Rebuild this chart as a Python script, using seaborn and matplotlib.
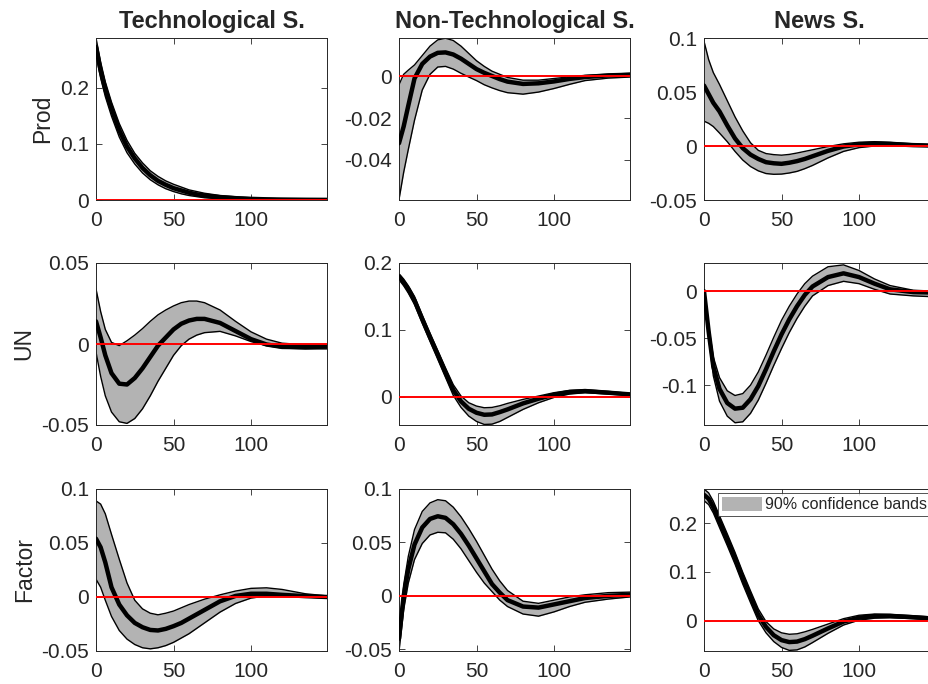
"""
Impulse responses with 90% bands, 3x3 grid (MATLAB-style look).
"""
import matplotlib
matplotlib.use("Agg")
import matplotlib.pyplot as plt
from matplotlib.patches import Patch
from matplotlib.ticker import FuncFormatter
import seaborn as sns
import pandas as pd

sns.set_style("ticks")
plt.rcParams["font.family"] = ["Liberation Sans", "DejaVu Sans"]
plt.rcParams["axes.unicode_minus"] = False

# ---- data ----
HORIZON = [0, 3, 6, 10, 15, 20, 25, 30, 35, 40, 45, 50, 55, 60, 65, 70, 80, 90, 100, 110, 120, 135, 149]

SHOCKS = ["Technological S.", "Non-Technological S.", "News S."]
VARIABLES = ["Prod", "UN", "Factor"]

# Prod
PROD_TECH_MED = [0.272, 0.23, 0.197, 0.162, 0.124, 0.095, 0.074, 0.057, 0.044, 0.034, 0.027, 0.021, 0.017, 0.013, 0.010, 0.008, 0.005, 0.003, 0.002, 0.0012, 0.0008, 0.0004, 0.0002]
PROD_TECH_HI = [0.288, 0.245, 0.21, 0.174, 0.136, 0.106, 0.083, 0.066, 0.052, 0.042, 0.034, 0.028, 0.023, 0.018, 0.015, 0.012, 0.008, 0.006, 0.004, 0.003, 0.002, 0.0015, 0.001]
PROD_TECH_LO = [0.258, 0.217, 0.184, 0.149, 0.112, 0.084, 0.064, 0.048, 0.036, 0.027, 0.020, 0.015, 0.011, 0.008, 0.006, 0.004, 0.002, 0.001, 0.0005, 0.0002, 0.0001, 0.0, 0.0]

PROD_NONTECH_MED = [-0.032, -0.024, -0.014, -0.001, 0.006, 0.0095, 0.0113, 0.0115, 0.0105, 0.0085, 0.006, 0.0035, 0.0017, 0.0002, -0.0013, -0.0025, -0.0036, -0.0033, -0.0024, -0.0012, -0.0003, 0.0005, 0.0008]
PROD_NONTECH_HI = [-0.004, 0.001, 0.003, 0.0055, 0.010, 0.0145, 0.0175, 0.0183, 0.0172, 0.0145, 0.011, 0.0075, 0.0048, 0.0025, 0.001, -0.0005, -0.0018, -0.0018, -0.001, -0.0002, 0.0005, 0.001, 0.0015]
PROD_NONTECH_LO = [-0.059, -0.046, -0.035, -0.021, -0.0065, 0.001, 0.0045, 0.0048, 0.0035, 0.0015, -0.0003, -0.002, -0.004, -0.0055, -0.0068, -0.0078, -0.0085, -0.0075, -0.0058, -0.0038, -0.002, -0.0008, -0.0003]

PROD_NEWS_MED = [0.056, 0.048, 0.040, 0.032, 0.019, 0.007, -0.002, -0.008, -0.012, -0.015, -0.016, -0.0165, -0.0155, -0.014, -0.012, -0.0095, -0.0045, -0.0005, 0.0015, 0.0022, 0.0018, 0.0008, 0.0003]
PROD_NEWS_HI = [0.097, 0.08, 0.068, 0.057, 0.042, 0.027, 0.014, 0.003, -0.004, -0.007, -0.008, -0.0085, -0.0078, -0.0065, -0.005, -0.0035, -0.0005, 0.002, 0.0035, 0.004, 0.0035, 0.002, 0.001]
PROD_NEWS_LO = [0.023, 0.021, 0.018, 0.012, 0.004, -0.005, -0.013, -0.019, -0.023, -0.0255, -0.0262, -0.026, -0.025, -0.0235, -0.021, -0.018, -0.011, -0.005, -0.0015, 0.0, 0.0002, -0.0002, -0.0003]

# UN
UN_TECH_MED = [0.014, 0.004, -0.007, -0.018, -0.0245, -0.025, -0.021, -0.015, -0.008, -0.001, 0.004, 0.009, 0.0125, 0.0145, 0.0155, 0.0155, 0.013, 0.008, 0.003, -0.0003, -0.0018, -0.002, -0.0015]
UN_TECH_HI = [0.034, 0.02, 0.009, 0.001, -0.001, 0.002, 0.0055, 0.0095, 0.014, 0.018, 0.021, 0.0235, 0.0255, 0.0265, 0.0265, 0.0255, 0.021, 0.014, 0.0075, 0.003, 0.0005, -0.0005, -0.0005]
UN_TECH_LO = [-0.005, -0.02, -0.032, -0.042, -0.048, -0.049, -0.046, -0.040, -0.032, -0.023, -0.015, -0.007, -0.001, 0.003, 0.0055, 0.007, 0.0078, 0.005, 0.0015, -0.001, -0.0025, -0.003, -0.003]

UN_NONTECH_MED = [0.180, 0.171, 0.161, 0.144, 0.116, 0.089, 0.063, 0.036, 0.010, -0.007, -0.018, -0.024, -0.027, -0.0265, -0.023, -0.019, -0.010, -0.003, 0.003, 0.007, 0.0085, 0.006, 0.0035]
UN_NONTECH_HI = [0.184, 0.176, 0.166, 0.150, 0.122, 0.095, 0.069, 0.043, 0.018, 0.001, -0.009, -0.014, -0.0165, -0.016, -0.0135, -0.010, -0.004, 0.001, 0.006, 0.0095, 0.0105, 0.008, 0.005]
UN_NONTECH_LO = [0.175, 0.166, 0.155, 0.138, 0.110, 0.083, 0.056, 0.029, 0.002, -0.016, -0.029, -0.037, -0.0415, -0.041, -0.037, -0.031, -0.019, -0.009, -0.001, 0.004, 0.006, 0.004, 0.002]

UN_NEWS_MED = [0.0, -0.043, -0.080, -0.104, -0.119, -0.125, -0.124, -0.115, -0.101, -0.083, -0.064, -0.046, -0.030, -0.016, -0.004, 0.005, 0.015, 0.019, 0.015, 0.008, 0.002, -0.001, -0.0015]
UN_NEWS_HI = [0.0, -0.037, -0.070, -0.092, -0.106, -0.111, -0.109, -0.100, -0.086, -0.068, -0.049, -0.031, -0.016, -0.003, 0.008, 0.016, 0.026, 0.028, 0.022, 0.013, 0.006, 0.001, 0.0]
UN_NEWS_LO = [0.0, -0.049, -0.090, -0.117, -0.133, -0.140, -0.139, -0.130, -0.116, -0.098, -0.079, -0.061, -0.044, -0.029, -0.016, -0.005, 0.006, 0.0105, 0.008, 0.002, -0.003, -0.005, -0.006]

# Factor
FACTOR_TECH_MED = [0.054, 0.046, 0.032, 0.009, -0.007, -0.017, -0.024, -0.028, -0.0305, -0.031, -0.0295, -0.027, -0.024, -0.020, -0.016, -0.012, -0.004, 0.001, 0.003, 0.003, 0.002, 0.0008, 0.0]
FACTOR_TECH_HI = [0.089, 0.086, 0.077, 0.058, 0.035, 0.013, -0.003, -0.011, -0.015, -0.0165, -0.015, -0.013, -0.010, -0.007, -0.0045, -0.002, 0.002, 0.0055, 0.008, 0.0085, 0.007, 0.003, 0.001]
FACTOR_TECH_LO = [0.0165, 0.009, -0.003, -0.018, -0.031, -0.039, -0.044, -0.047, -0.048, -0.047, -0.045, -0.042, -0.038, -0.034, -0.029, -0.024, -0.014, -0.006, -0.001, 0.001, 0.0012, 0.0, -0.001]

FACTOR_NONTECH_MED = [-0.040, 0.0, 0.025, 0.048, 0.064, 0.072, 0.0745, 0.073, 0.067, 0.058, 0.047, 0.035, 0.023, 0.011, 0.003, -0.004, -0.010, -0.011, -0.008, -0.005, -0.002, 0.0, 0.001]
FACTOR_NONTECH_HI = [-0.033, 0.01, 0.037, 0.062, 0.079, 0.087, 0.090, 0.089, 0.083, 0.074, 0.063, 0.051, 0.038, 0.025, 0.014, 0.005, -0.005, -0.007, -0.004, -0.001, 0.001, 0.003, 0.0035]
FACTOR_NONTECH_LO = [-0.052, -0.013, 0.012, 0.034, 0.049, 0.057, 0.0595, 0.059, 0.053, 0.044, 0.033, 0.022, 0.012, 0.004, -0.004, -0.01, -0.017, -0.019, -0.015, -0.01, -0.006, -0.003, -0.001]

FACTOR_NEWS_MED = [0.258, 0.250, 0.233, 0.203, 0.166, 0.128, 0.087, 0.049, 0.012, -0.013, -0.030, -0.040, -0.044, -0.043, -0.038, -0.031, -0.016, -0.002, 0.006, 0.0095, 0.0095, 0.007, 0.004]
FACTOR_NEWS_HI = [0.270, 0.262, 0.245, 0.215, 0.178, 0.140, 0.099, 0.061, 0.024, -0.002, -0.017, -0.025, -0.028, -0.027, -0.023, -0.018, -0.007, 0.004, 0.011, 0.0135, 0.013, 0.010, 0.007]
FACTOR_NEWS_LO = [0.246, 0.238, 0.221, 0.191, 0.154, 0.116, 0.075, 0.037, 0.000, -0.025, -0.043, -0.055, -0.061, -0.060, -0.054, -0.045, -0.026, -0.009, 0.001, 0.005, 0.006, 0.004, 0.001]

PANELS = [
    [(PROD_TECH_MED, PROD_TECH_LO, PROD_TECH_HI),
     (PROD_NONTECH_MED, PROD_NONTECH_LO, PROD_NONTECH_HI),
     (PROD_NEWS_MED, PROD_NEWS_LO, PROD_NEWS_HI)],
    [(UN_TECH_MED, UN_TECH_LO, UN_TECH_HI),
     (UN_NONTECH_MED, UN_NONTECH_LO, UN_NONTECH_HI),
     (UN_NEWS_MED, UN_NEWS_LO, UN_NEWS_HI)],
    [(FACTOR_TECH_MED, FACTOR_TECH_LO, FACTOR_TECH_HI),
     (FACTOR_NONTECH_MED, FACTOR_NONTECH_LO, FACTOR_NONTECH_HI),
     (FACTOR_NEWS_MED, FACTOR_NEWS_LO, FACTOR_NEWS_HI)],
]

Y_LIMITS = [
    [(0, 0.288), (-0.0592, 0.0184), (-0.05, 0.1)],
    [(-0.05, 0.05), (-0.0423, 0.2), (-0.1424, 0.030)],
    [(-0.05, 0.1), (-0.0516, 0.1), (-0.0623, 0.27)],
]
Y_TICKS = [
    [[0, 0.1, 0.2], [-0.04, -0.02, 0], [-0.05, 0, 0.05, 0.1]],
    [[-0.05, 0, 0.05], [0, 0.1, 0.2], [-0.1, -0.05, 0]],
    [[-0.05, 0, 0.05, 0.1], [-0.05, 0, 0.05, 0.1], [0, 0.1, 0.2]],
]
X_TICKS = [0, 50, 100]

BAND = "#B3B3B3"
AXC = "#262626"

W, H = 929, 684
LEFTS = [96, 399, 704]
TOPS = [38, 263, 489]
AW, AH = 231, 162


def fmt(v, _pos):
    if abs(v) < 1e-12:
        return "0"
    return f"{v:g}"


fig = plt.figure(figsize=(W / 100, H / 100), dpi=100)

for r in range(3):
    for c in range(3):
        ax = fig.add_axes([LEFTS[c] / W, 1 - (TOPS[r] + AH) / H, AW / W, AH / H])
        med, lo, hi = PANELS[r][c]
        ax.fill_between(HORIZON, lo, hi, color=BAND, lw=0, zorder=1)
        ax.plot(HORIZON, lo, color="black", lw=1.0, zorder=2)
        ax.plot(HORIZON, hi, color="black", lw=1.0, zorder=2)
        df = pd.DataFrame({"h": HORIZON, "irf": med})
        sns.lineplot(data=df, x="h", y="irf", color="black", lw=3.2, ax=ax, zorder=3)
        ax.axhline(0, color="red", lw=1.4, zorder=4)

        ax.set_xlim(0, 149)
        ax.set_ylim(*Y_LIMITS[r][c])
        ax.set_xticks(X_TICKS)
        ax.set_yticks(Y_TICKS[r][c])
        ax.yaxis.set_major_formatter(FuncFormatter(fmt))
        ax.xaxis.set_major_formatter(FuncFormatter(fmt))
        ax.tick_params(direction="in", top=True, right=True, length=4,
                       width=0.6, colors=AXC, labelsize=15)
        ax.tick_params(axis="x", pad=8)
        ax.tick_params(axis="y", pad=5)
        for sp in ax.spines.values():
            sp.set_color(AXC)
            sp.set_linewidth(0.7)
        ax.set_xlabel("")
        ax.set_ylabel("")
        if r == 0:
            ax.set_title(SHOCKS[c], fontsize=17, fontweight="bold", pad=7)
        if c == 0:
            ax.set_ylabel(VARIABLES[r], fontsize=16.5, color=AXC, labelpad=4)
        if r == 2 and c == 2:
            handle = Patch(facecolor=BAND, edgecolor="none")
            leg = ax.legend([handle], ["90% confidence bands"], loc="upper right",
                            fontsize=11.5, frameon=True, fancybox=False,
                            borderaxespad=0.25, handlelength=2.5, handleheight=0.95,
                            handletextpad=0.2, borderpad=0.25)
            leg.get_frame().set_edgecolor(AXC)
            leg.get_frame().set_linewidth(0.7)

fig.savefig("out.png", dpi=100, facecolor="white")
